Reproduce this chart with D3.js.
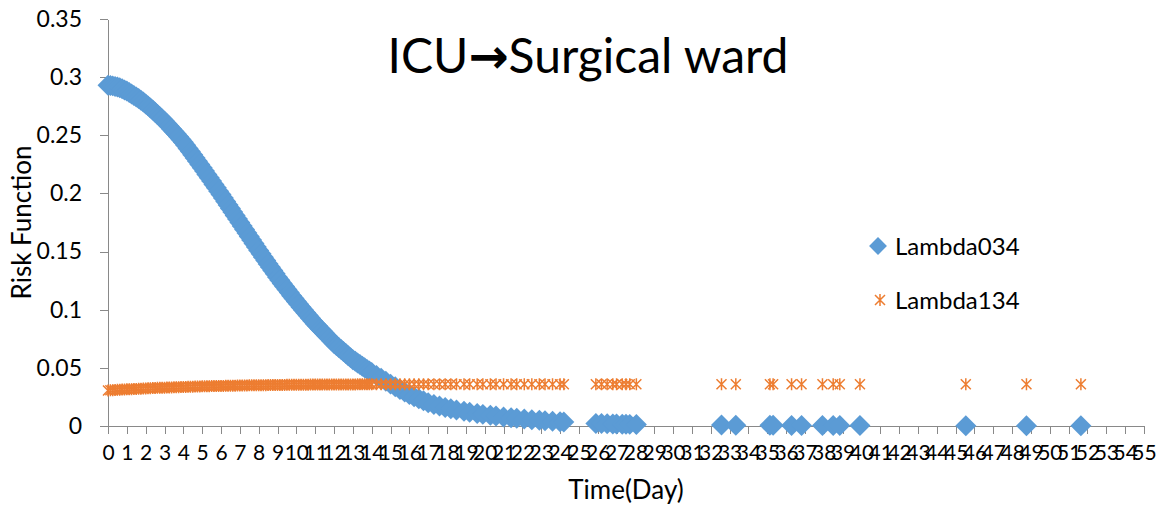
<!DOCTYPE html>
<html lang="en">
<head>
<meta charset="UTF-8"/>
<title>ICU to Surgical ward</title>
<script src="https://d3js.org/d3.v7.min.js"></script>
<style>
    body { margin: 0; background: #fff; }
    text { font-family: Lato, "Open Sans", sans-serif; fill: #000; }
    .axis path, .axis line { stroke: #898989; shape-rendering: crispEdges; }
</style>
</head>
<body>
<div id="chart"></div>
<script>

var days = [
    0, 0.125, 0.25, 0.375, 0.5, 0.625, 0.75, 0.875,
    1, 1.125, 1.25, 1.375, 1.5, 1.625, 1.75, 1.875,
    2, 2.125, 2.25, 2.375, 2.5, 2.625, 2.75, 2.875,
    3, 3.125, 3.25, 3.375, 3.5, 3.625, 3.75, 3.875,
    4, 4.125, 4.25, 4.375, 4.5, 4.625, 4.75, 4.875,
    5, 5.125, 5.25, 5.375, 5.5, 5.625, 5.75, 5.875,
    6, 6.125, 6.25, 6.375, 6.5, 6.625, 6.75, 6.875,
    7, 7.125, 7.25, 7.375, 7.5, 7.625, 7.75, 7.875,
    8, 8.125, 8.25, 8.375, 8.5, 8.625, 8.75, 8.875,
    9, 9.125, 9.25, 9.375, 9.5, 9.625, 9.75, 9.875,
    10, 10.125, 10.25, 10.375, 10.5, 10.625, 10.75, 10.875,
    11, 11.125, 11.25, 11.375, 11.5, 11.625, 11.75, 11.875,
    12, 12.125, 12.25, 12.375, 12.5, 12.625, 12.75, 12.875,
    13, 13.125, 13.25, 13.375, 13.5, 13.625, 13.75, 13.875,
    14, 14.25, 14.5, 14.75, 15, 15.25, 15.5, 15.75, 16, 16.25, 16.5, 16.75, 17,
    17.3, 17.6, 17.9, 18.2, 18.5, 18.9, 19.2, 19.6, 19.9, 20.3, 20.6,
    21.0, 21.4, 21.7, 22.1, 22.5, 22.9, 23.2, 23.6, 24.0, 24.2,
    25.9, 26.2, 26.5, 26.8, 27.0, 27.3, 27.5, 27.7, 28.05,
    32.57, 33.33, 35.14, 35.31, 36.29, 36.82, 37.93, 38.50, 38.85, 39.92, 45.54, 48.76, 51.65
];

var lambda034 = [
    .2930, .2928, .2925, .2920, .2915, .2908, .2900, .2890,
    .2880, .2868, .2856, .2843, .2830, .2816, .2802, .2786,
    .2770, .2753, .2735, .2717, .2698, .2679, .2660, .2640,
    .2620, .2599, .2577, .2555, .2533, .2511, .2488, .2464,
    .2440, .2414, .2387, .2360, .2332, .2305, .2277, .2249,
    .2220, .2192, .2163, .2135, .2106, .2077, .2048, .2019,
    .1990, .1960, .1930, .1900, .1870, .1840, .1810, .1780,
    .1750, .1720, .1690, .1660, .1630, .1600, .1570, .1540,
    .1510, .1481, .1452, .1423, .1394, .1366, .1337, .1309,
    .1280, .1253, .1226, .1200, .1173, .1147, .1121, .1096,
    .1070, .1046, .1021, .0997, .0973, .0950, .0926, .0903,
    .0880, .0859, .0837, .0816, .0795, .0775, .0754, .0732,
    .0710, .0693, .0675, .0658, .0640, .0623, .0605, .0588,
    .0570, .0556, .0542, .0528, .0514, .0501, .0487, .0474,
    .0460, .0435, .0410, .0385, .0360, .0337, .0314, .0292, .0270, .0252, .0235, .0218, .0200,
    .0185, .0172, .0160, .0148, .0138, .0126, .0118, .0108, .0100, .0092, .0086,
    .0078, .0071, .0066, .0060, .0054, .0049, .0045, .0041, .0036, .0034,
    .0022, .0021, .0019, .0018, .0017, .0016, .0015, .0014, .0013,
    .0008, .0007, .0006, .0006, .0005, .0005, .0005, .0004, .0004, .0004, .0003, .0002, .0002
];

var lambda134 = [
    .0305, .0307, .0308, .0310, .0311, .0312, .0313, .0314,
    .0315, .0316, .0317, .0318, .0319, .0320, .0321, .0322,
    .0323, .0324, .0325, .0326, .0327, .0328, .0328, .0329,
    .0330, .0331, .0331, .0332, .0333, .0334, .0334, .0335,
    .0336, .0336, .0337, .0338, .0338, .0339, .0339, .0340,
    .0341, .0341, .0342, .0342, .0343, .0343, .0344, .0344,
    .0345, .0345, .0346, .0346, .0347, .0347, .0347, .0348,
    .0348, .0348, .0349, .0349, .0350, .0350, .0350, .0350,
    .0351, .0351, .0351, .0351, .0352, .0352, .0352, .0352,
    .0353, .0353, .0353, .0353, .0354, .0354, .0354, .0354,
    .0355, .0355, .0355, .0355, .0355, .0355, .0356, .0356,
    .0356, .0356, .0356, .0356, .0356, .0357, .0357, .0357,
    .0357, .0357, .0357, .0357, .0357, .0357, .0357, .0357,
    .0357, .0357, .0358, .0358, .0358, .0358, .0358, .0358,
    .0358, .0358, .0358, .0358, .0358, .0358, .0359, .0359, .0359, .0359, .0359, .0359, .0359,
    .0359, .0359, .0359, .0359, .0359, .0359, .0359, .0359, .0359, .0359, .0359,
    .0359, .0359, .0359, .0359, .0359, .0359, .0359, .0359, .0359, .0359,
    .0359, .0359, .0359, .0359, .0359, .0359, .0359, .0359, .0359,
    .0359, .0359, .0359, .0359, .0359, .0359, .0359, .0359, .0359, .0359, .0359, .0359, .0359
];

var xTicks = [0, 1, 2, 3, 4, 5, 6, 7, 8, 9, 10, 11, 12, 13, 14, 15, 16, 17, 18, 19,
    20, 21, 22, 23, 24, 25, 26, 27, 28, 29, 30, 31, 32, 33, 34, 35, 36, 37, 38, 39,
    40, 41, 42, 43, 44, 45, 46, 47, 48, 49, 50, 51, 52, 53, 54, 55];
var yTicks = [0, 0.05, 0.1, 0.15, 0.2, 0.25, 0.3, 0.35];
var seriesNames = ["Lambda034", "Lambda134"];
var colors = ["#5b9bd5", "#ed7d31"];

var width = 1164, height = 513;

var svg = d3.select("#chart")
    .append("svg")
    .attr("width", width)
    .attr("height", height);

svg.append("rect").attr("width", width).attr("height", height).attr("fill", "#fff");

var x = d3.scaleLinear().domain([0, 55]).range([108, 1144]);
var y = d3.scaleLinear().domain([0, 0.35]).range([426, 19]);

// axes
var xAxis = svg.append("g")
    .attr("class", "axis")
    .attr("transform", "translate(0," + y(0) + ")")
    .call(d3.axisBottom(x).tickValues(xTicks).tickSize(8).tickSizeOuter(0).tickFormat(d3.format("d")));
xAxis.selectAll("text")
    .attr("y", 34).attr("dy", 0)
    .style("font-size", "21px");

var yAxis = svg.append("g")
    .attr("class", "axis")
    .attr("transform", "translate(" + x(0) + ",0)")
    .call(d3.axisLeft(y).tickValues(yTicks).tickSize(8).tickSizeOuter(0).tickPadding(18)
        .tickFormat(function(d) { return String(+d.toFixed(2)); }));
yAxis.selectAll("text").style("font-size", "23px");

svg.selectAll(".axis text").attr("font-family", null).style("fill", "#000");

// markers
var diamond = d3.symbol().type(d3.symbolSquare).size(220);
var star = "M0,-6V6M-5,-5L5,5M-5,5L5,-5";

var pts = days.map(function(d, i) {
    return {t: d, a: lambda034[i], b: lambda134[i]};
});

svg.append("g").selectAll("path")
    .data(pts)
    .enter()
    .append("path")
    .attr("d", diamond)
    .attr("transform", function(d) { return "translate(" + x(d.t) + "," + y(d.a) + ")rotate(45)"; })
    .attr("fill", colors[0]);

svg.append("g").selectAll("path")
    .data(pts)
    .enter()
    .append("path")
    .attr("d", star)
    .attr("transform", function(d) { return "translate(" + x(d.t) + "," + y(d.b) + ")"; })
    .attr("fill", "none")
    .attr("stroke", colors[1])
    .attr("stroke-width", 1.5);

// title
var title = svg.append("text")
    .attr("x", 588)
    .attr("y", 73)
    .attr("text-anchor", "middle")
    .style("font-size", "48px");
title.append("tspan").text("ICU");
title.append("tspan").style("font-family", "DejaVu Sans").style("font-weight", "bold").text("\u2192");
title.append("tspan").text("Surgical ward");

// axis titles
svg.append("text")
    .attr("x", 626)
    .attr("y", 499)
    .attr("text-anchor", "middle")
    .style("font-size", "26px")
    .text("Time(Day)");

svg.append("text")
    .attr("transform", "translate(31," + ((y(0) + y(0.35)) / 2) + ")rotate(-90)")
    .attr("text-anchor", "middle")
    .style("font-size", "26px")
    .text("Risk Function");

// legend
var legend = svg.append("g");
legend.append("path")
    .attr("d", d3.symbol().type(d3.symbolSquare).size(160))
    .attr("transform", "translate(878,246)rotate(45)")
    .attr("fill", colors[0]);
legend.append("text")
    .attr("x", 895).attr("y", 255)
    .style("font-size", "24px")
    .text(seriesNames[0]);
legend.append("path")
    .attr("d", star)
    .attr("transform", "translate(880,300)")
    .attr("fill", "none")
    .attr("stroke", colors[1])
    .attr("stroke-width", 1.5);
legend.append("text")
    .attr("x", 895).attr("y", 309)
    .style("font-size", "24px")
    .text(seriesNames[1]);

</script>
</body>
</html>
